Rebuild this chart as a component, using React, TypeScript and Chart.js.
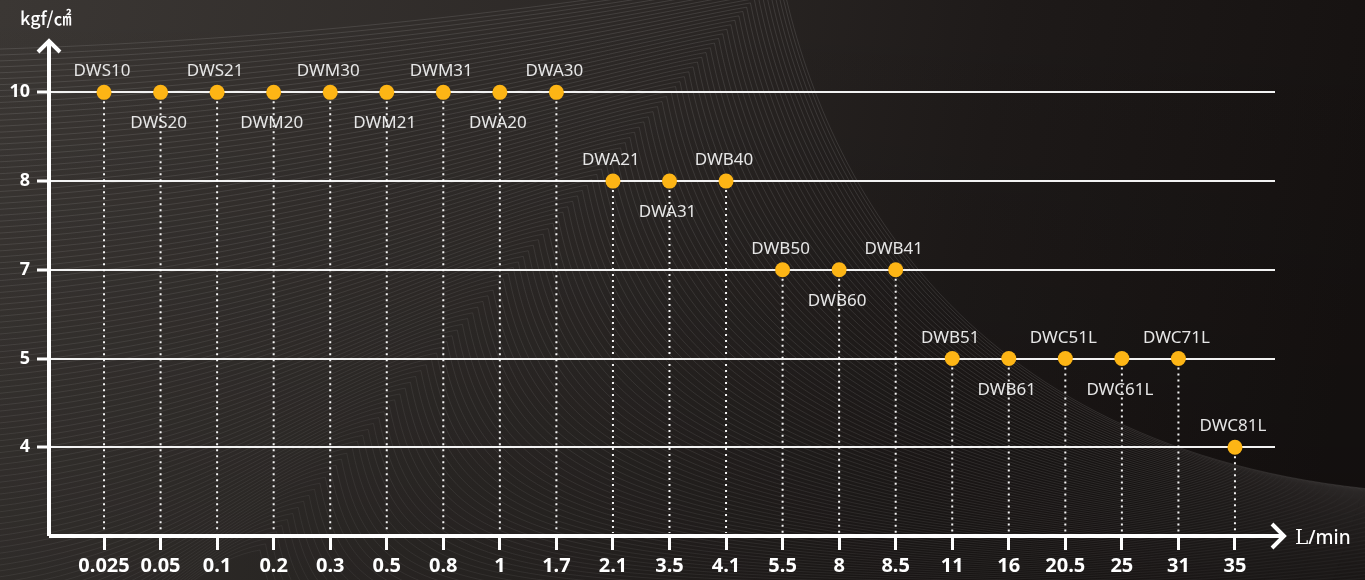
import { useEffect, useRef } from 'react';
import { Chart, registerables } from 'chart.js';

Chart.register(...registerables);

const flowLabels = ['0.025', '0.05', '0.1', '0.2', '0.3', '0.5', '0.8', '1', '1.7', '2.1', '3.5', '4.1', '5.5', '8', '8.5', '11', '16', '20.5', '25', '31', '35'];
const pressureLevels = ['10', '8', '7', '5', '4'];
const models = ['DWS10', 'DWS20', 'DWS21', 'DWM20', 'DWM30', 'DWM21', 'DWM31', 'DWA20', 'DWA30', 'DWA21', 'DWA31', 'DWB40', 'DWB50', 'DWB60', 'DWB41', 'DWB51', 'DWB61', 'DWC51L', 'DWC61L', 'DWC71L', 'DWC81L'];
const pressures = [10, 10, 10, 10, 10, 10, 10, 10, 10, 8, 8, 8, 7, 7, 7, 5, 5, 5, 5, 5, 4];

const yUnit = 'kgf/㎠';
const xUnitL = 'L';
const xUnitRest = '/min';

const rankOf = (p: number) => pressureLevels.length - pressureLevels.indexOf(String(p));

const FONT = "'Noto Sans', 'DejaVu Sans', sans-serif";

const backgroundPlugin = {
  id: 'bgWaves',
  beforeDraw(chart: any) {
    const { ctx, width, height } = chart;
    ctx.save();
    const g = ctx.createLinearGradient(0, 0, width, height * 0.4);
    g.addColorStop(0, '#3b3734');
    g.addColorStop(0.45, '#2c2826');
    g.addColorStop(0.72, '#1e1a19');
    g.addColorStop(1, '#161211');
    ctx.fillStyle = g;
    ctx.fillRect(0, 0, width, height);
    const v = ctx.createLinearGradient(0, 0, 0, height);
    v.addColorStop(0, 'rgba(0,0,0,0)');
    v.addColorStop(1, 'rgba(0,0,0,0.18)');
    ctx.fillStyle = v;
    ctx.fillRect(0, 0, width, height);

    const N = 110;
    ctx.lineWidth = 1;
    for (let k = 0; k < N; k++) {
      const t = k / (N - 1);
      const e = Math.pow(t, 1.15);
      const px = 780 - 520 * e;
      const py = -30 + 580 * e;
      const yL = 50 + 650 * t;
      const yR = 492 + 140 * e;
      ctx.strokeStyle = `rgba(255,255,255,${0.11 - 0.06 * t})`;
      ctx.beginPath();
      ctx.moveTo(-30, yL);
      ctx.bezierCurveTo(px * 0.5, yL - 0.15 * (yL - py), px - 90, py + 15, px, py);
      ctx.bezierCurveTo(px + 40, py + 200, px + 180, yR - 30, width + 40, yR);
      ctx.stroke();
    }
    ctx.restore();
  },
};

const overlayPlugin = {
  id: 'overlay',
  beforeDatasetsDraw(chart: any) {
    const { ctx, chartArea } = chart;
    const meta = chart.getDatasetMeta(0);
    ctx.save();
    ctx.font = `17px ${FONT}`;
    ctx.fillStyle = '#e6e6e6';
    ctx.textAlign = 'center';
    ctx.textBaseline = 'alphabetic';
    let groupPos = 0;
    meta.data.forEach((pt: any, i: number) => {
      if (i > 0 && pressures[i] !== pressures[i - 1]) groupPos = 0;
      const above = groupPos % 2 === 0;
      ctx.fillText(models[i], pt.x - 2, above ? pt.y - 16 : pt.y + 36);
      groupPos++;
    });
    ctx.strokeStyle = 'rgba(255,255,255,0.95)';
    ctx.lineWidth = 2;
    ctx.setLineDash([2, 4]);
    meta.data.forEach((pt: any) => {
      ctx.beginPath();
      ctx.moveTo(pt.x, pt.y + 9);
      ctx.lineTo(pt.x, chartArea.bottom - 3);
      ctx.stroke();
    });
    ctx.restore();
  },
  afterDraw(chart: any) {
    const { ctx, chartArea } = chart;
    const { left, bottom, top, right } = chartArea;
    ctx.save();
    ctx.strokeStyle = '#ffffff';
    ctx.lineWidth = 4;
    ctx.lineJoin = 'miter';
    ctx.beginPath();
    ctx.moveTo(left, bottom);
    ctx.lineTo(left, top + 1);
    ctx.moveTo(left, bottom);
    ctx.lineTo(right + 9, bottom);
    ctx.stroke();
    ctx.beginPath();
    ctx.moveTo(left - 11, top + 12);
    ctx.lineTo(left, top + 1);
    ctx.lineTo(left + 11, top + 12);
    ctx.moveTo(right - 3, bottom - 12);
    ctx.lineTo(right + 9, bottom);
    ctx.lineTo(right - 3, bottom + 12);
    ctx.stroke();
    ctx.fillStyle = '#ffffff';
    ctx.textBaseline = 'alphabetic';
    ctx.textAlign = 'left';
    ctx.font = "500 18px 'Noto Sans CJK KR', sans-serif";
    ctx.fillText(yUnit, 20, 25);
    ctx.font = "20px 'DejaVu Serif', 'Liberation Serif', serif";
    ctx.fillText(xUnitL, right + 20, bottom + 8);
    const lw = ctx.measureText(xUnitL).width;
    ctx.font = `500 19px ${FONT}`;
    ctx.fillText(xUnitRest, right + 20 + lw, bottom + 8);
    ctx.restore();
  },
};

export default function App() {
  const ref = useRef<HTMLCanvasElement | null>(null);
  useEffect(() => {
    document.body.style.margin = '0';
    if (!ref.current) return;
    const chart = new Chart(ref.current, {
      type: 'scatter',
      data: {
        datasets: [
          {
            data: pressures.map((p, i) => ({ x: i, y: rankOf(p) })),
            pointRadius: 7.5,
            pointHoverRadius: 7.5,
            pointBackgroundColor: '#fdb515',
            pointBorderWidth: 0,
            showLine: false,
          },
        ],
      },
      options: {
        responsive: false,
        animation: false,
        events: [],
        layout: { padding: { top: 40, right: 90, left: 0, bottom: 0 } },
        plugins: { legend: { display: false }, tooltip: { enabled: false } },
        scales: {
          x: {
            type: 'linear',
            min: -0.973,
            max: 20.708,
            afterBuildTicks: (s: any) => {
              s.ticks = flowLabels.map((_, i) => ({ value: i }));
            },
            afterFit: (s: any) => {
              s.height = 44;
            },
            ticks: {
              autoSkip: false,
              maxRotation: 0,
              minRotation: 0,
              padding: 4,
              color: '#ffffff',
              font: { family: FONT, size: 20, weight: 'bold' },
              callback: (v: any) => flowLabels[v] ?? '',
            },
            grid: { drawOnChartArea: false, drawTicks: true, tickLength: 14, tickWidth: 3, tickColor: '#ffffff' },
            border: { display: false },
          },
          y: {
            type: 'linear',
            min: 0,
            max: 5.59,
            afterBuildTicks: (s: any) => {
              s.ticks = pressureLevels.map((_, i) => ({ value: i + 1 }));
            },
            afterFit: (s: any) => {
              s.width = 49;
            },
            ticks: {
              padding: 7,
              color: '#ffffff',
              font: { family: FONT, size: 18, weight: 'bold' },
              callback: (v: any) => pressureLevels[pressureLevels.length - v] ?? '',
            },
            grid: { color: '#f2f2f2', lineWidth: 2, drawTicks: true, tickLength: 12, tickWidth: 3, tickColor: '#ffffff' },
            border: { display: false },
          },
        },
      },
      plugins: [backgroundPlugin, overlayPlugin],
    } as any);
    return () => chart.destroy();
  }, []);
  return (
    <div style={{ position: 'absolute', left: 0, top: 0, width: 1365, height: 580 }}>
      <canvas ref={ref} width={1365} height={580} style={{ display: 'block', width: 1365, height: 580 }} />
    </div>
  );
}
